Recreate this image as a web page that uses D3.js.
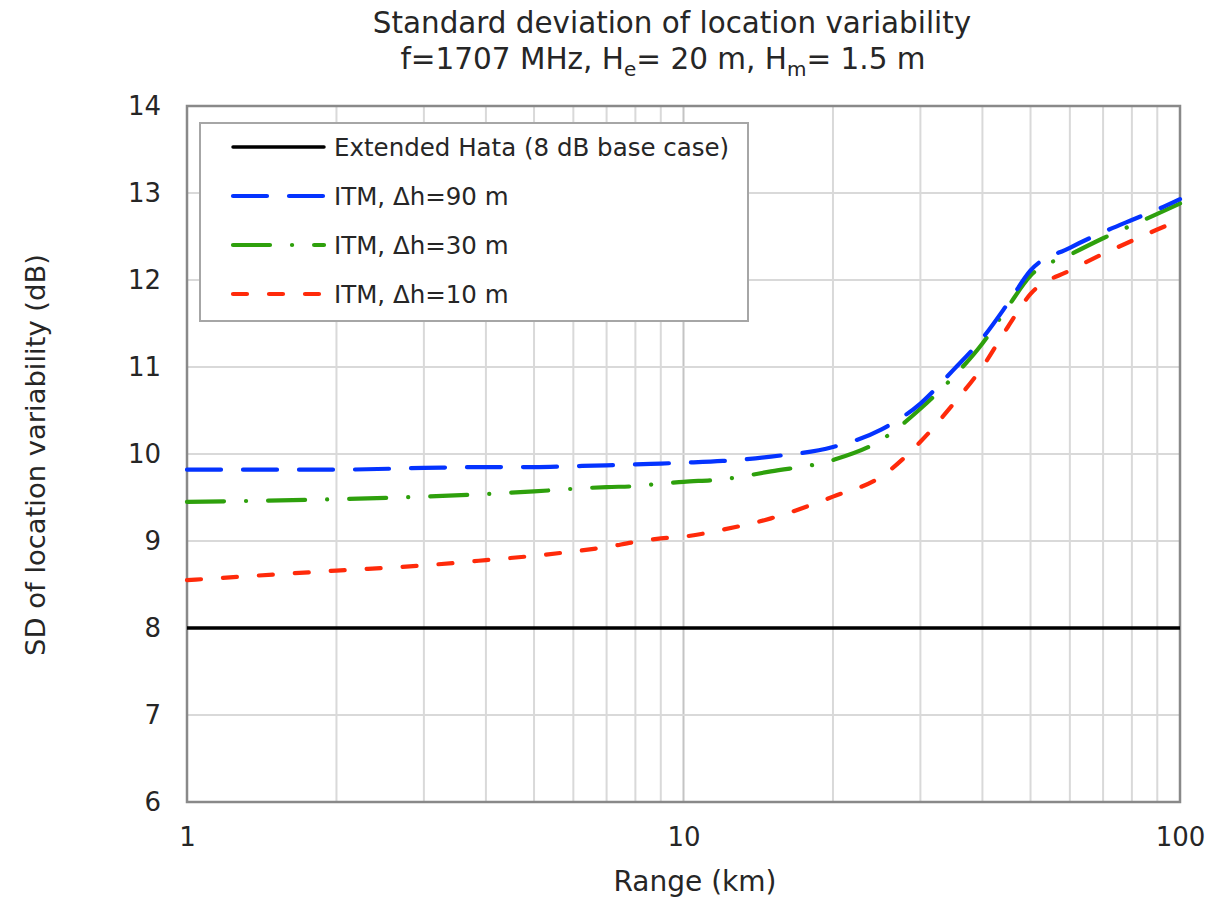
<!DOCTYPE html>
<html>
<head>
<meta charset="utf-8">
<script src="https://cdn.jsdelivr.net/npm/d3@7"></script>
<style>
  body { margin: 0; background: #fff; }
  text { font-family: "DejaVu Sans", "Liberation Sans", sans-serif; fill: #262626; }
</style>
</head>
<body>
<div id="chart"></div>
<script>
// Range (km) sample points
var ranges = [1, 2, 3, 4, 5, 6, 7, 8, 9, 10, 12, 15, 20, 25, 30, 35, 40, 45, 50, 60, 70, 80, 90, 100];

var itm90 = [9.82, 9.82, 9.84, 9.85, 9.85, 9.86, 9.87, 9.88, 9.89, 9.90, 9.92, 9.97, 10.08, 10.28, 10.58, 10.97, 11.33, 11.73, 12.11, 12.37, 12.55, 12.69, 12.81, 12.93];
var itm30 = [9.45, 9.48, 9.51, 9.54, 9.57, 9.60, 9.62, 9.63, 9.66, 9.68, 9.71, 9.80, 9.93, 10.16, 10.52, 10.89, 11.27, 11.69, 12.05, 12.29, 12.48, 12.63, 12.76, 12.88];
var itm10 = [8.55, 8.66, 8.72, 8.78, 8.83, 8.88, 8.93, 8.99, 9.03, 9.05, 9.13, 9.26, 9.51, 9.74, 10.14, 10.58, 11.00, 11.46, 11.84, 12.11, 12.30, 12.45, 12.58, 12.69];

var hataRanges = [1, 100];
var hata = [8, 8];

var yTicks = [6, 7, 8, 9, 10, 11, 12, 13, 14];
var xTicks = [1, 10, 100];

var series = [
    {name: "Extended Hata (8 dB base case)", x: hataRanges, y: hata, color: "#000000", dash: null, width: 3.5},
    {name: "ITM, \u0394h=90 m", x: ranges, y: itm90, color: "#0433ff", dash: "34,22", width: 4.2},
    {name: "ITM, \u0394h=30 m", x: ranges, y: itm30, color: "#2ea00c", dash: "37,22,0.1,22", width: 4.2},
    {name: "ITM, \u0394h=10 m", x: ranges, y: itm10, color: "#ff2a0a", dash: "14,22", width: 4.2}
];

var width = 1209, height = 919;
var margin = {top: 106, right: 29, bottom: 117, left: 187};
var inner_width = width - margin.left - margin.right;
var inner_height = height - margin.top - margin.bottom;

var svg = d3.select("#chart").append("svg")
    .attr("width", width)
    .attr("height", height);

var x_scale = d3.scaleLog().domain([1, 100]).range([0, inner_width]);
var y_scale = d3.scaleLinear().domain([6, 14]).range([inner_height, 0]);

var g = svg.append("g")
    .attr("transform", "translate(" + margin.left + "," + margin.top + ")");

// Grid lines
var minorX = [];
for (var d = 1; d <= 100; d *= 10) {
    for (var k = 2; k <= 9; k++) {
        if (d * k < 100) minorX.push(d * k);
    }
}
g.selectAll(".vgrid").data(minorX).enter().append("line")
    .attr("x1", function(v) { return x_scale(v); })
    .attr("x2", function(v) { return x_scale(v); })
    .attr("y1", 0).attr("y2", inner_height)
    .attr("stroke", "#d9d9d9").attr("stroke-width", 2);

g.append("line")
    .attr("x1", x_scale(10)).attr("x2", x_scale(10))
    .attr("y1", 0).attr("y2", inner_height)
    .attr("stroke", "#c4c4c4").attr("stroke-width", 2);

g.selectAll(".hgrid").data(yTicks.slice(1, -1)).enter().append("line")
    .attr("x1", 0).attr("x2", inner_width)
    .attr("y1", function(v) { return y_scale(v); })
    .attr("y2", function(v) { return y_scale(v); })
    .attr("stroke", "#d9d9d9").attr("stroke-width", 2);

// Plot border
g.append("rect")
    .attr("width", inner_width).attr("height", inner_height)
    .attr("fill", "none").attr("stroke", "#898989").attr("stroke-width", 2.5);

// Axes (labels only)
var x_axis = d3.axisBottom(x_scale).tickValues(xTicks).tickFormat(d3.format("d")).tickSize(0).tickPadding(26);
var xa = g.append("g").attr("transform", "translate(0," + inner_height + ")").call(x_axis);
var y_axis = d3.axisLeft(y_scale).tickValues(yTicks).tickFormat(d3.format("d")).tickSize(0).tickPadding(26);
var ya = g.append("g").call(y_axis);
[xa, ya].forEach(function(a) {
    a.select(".domain").remove();
    a.selectAll("text").style("font-size", "26px").style("font-family", "DejaVu Sans, sans-serif").attr("fill", "#262626");
});

// Lines
var line = d3.line()
    .x(function(d) { return x_scale(d[0]); })
    .y(function(d) { return y_scale(d[1]); })
    .curve(d3.curveMonotoneX);

var plotOrder = [0, 3, 2, 1];
plotOrder.forEach(function(i) {
    var s = series[i];
    var pts = s.x.map(function(v, j) { return [v, s.y[j]]; });
    g.append("path")
        .attr("d", line(pts))
        .attr("fill", "none")
        .attr("stroke", s.color)
        .attr("stroke-width", s.width)
        .attr("stroke-linecap", s.dash ? "round" : "butt")
        .attr("stroke-dasharray", s.dash);
});

// Legend
var legend = svg.append("g").attr("transform", "translate(200,123)");
legend.append("rect")
    .attr("width", 548).attr("height", 198)
    .attr("fill", "#fff").attr("stroke", "#a6a6a6").attr("stroke-width", 2);

series.forEach(function(s, i) {
    var yy = 24 + i * 49;
    legend.append("line")
        .attr("x1", 33).attr("x2", 124)
        .attr("y1", yy).attr("y2", yy)
        .attr("stroke", s.color)
        .attr("stroke-width", s.width)
        .attr("stroke-linecap", "round")
        .attr("stroke-dasharray", s.dash);
    legend.append("text")
        .attr("x", 134).attr("y", yy + 9)
        .style("font-size", "24.5px")
        .text(s.name);
});

// Titles
svg.append("text")
    .attr("x", 672).attr("y", 33).attr("text-anchor", "middle")
    .style("font-size", "29.4px")
    .text("Standard deviation of location variability");

var sub = svg.append("text")
    .attr("x", 663).attr("y", 69).attr("text-anchor", "middle")
    .style("font-size", "29.5px");
sub.append("tspan").text("f=1707 MHz, H");
sub.append("tspan").attr("dy", 7).style("font-size", "20px").text("e");
sub.append("tspan").attr("dy", -7).text("= 20 m, H");
sub.append("tspan").attr("dy", 7).style("font-size", "20px").text("m");
sub.append("tspan").attr("dy", -7).text("= 1.5 m");

svg.append("text")
    .attr("x", 695).attr("y", 891).attr("text-anchor", "middle")
    .style("font-size", "28px")
    .text("Range (km)");

svg.append("text")
    .attr("transform", "translate(45,455) rotate(-90)")
    .attr("text-anchor", "middle")
    .style("font-size", "27.4px")
    .text("SD of location variability (dB)");
</script>
</body>
</html>
